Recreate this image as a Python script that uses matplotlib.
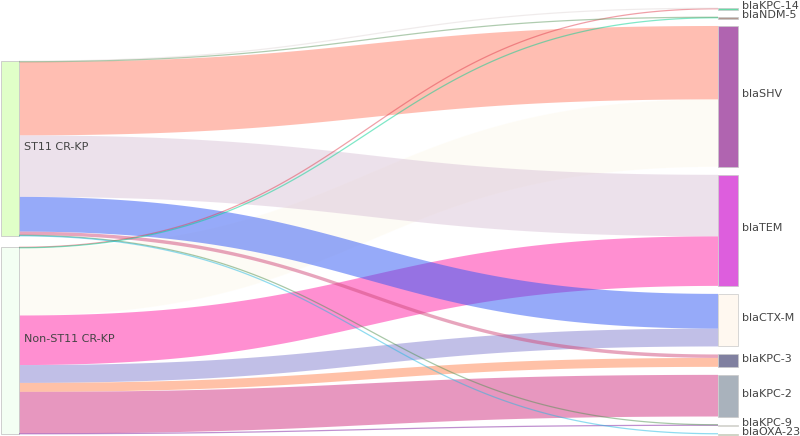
import matplotlib.pyplot as plt
import numpy as np
from matplotlib.patches import Polygon, Rectangle
from matplotlib.colors import to_rgb

# ---- data ----
sources = ["ST11 CR-KP", "Non-ST11 CR-KP"]
targets = ["blaKPC-14", "blaNDM-5", "blaSHV", "blaTEM", "blaCTX-M",
           "blaKPC-3", "blaKPC-2", "blaKPC-9", "blaOXA-23"]

st11_counts = [1, 1, 148, 124, 70, 7, 0, 1, 1]
non_st11_counts = [1, 1, 136, 100, 36, 18, 84, 1, 0]

source_colors = ["#E0FFC8", "#F3FFF3"]
target_colors = ["#66D9A6", "#B09890", "#B064B0", "#DD5EDD", "#FFF8F0",
                 "#8080A0", "#A9B2BC", "#FFFFE0", "#C8E890"]

# colours as they appear over white (links are drawn half transparent)
st11_link_colors = ["#F0ECEC", "#B0CCB0", "#FFBFB3", "#EDE2EC", "#97ABFA",
                    "#E8A6BE", "#FFFFFF", "#A8C8A8", "#90DCF0"]
non_st11_link_colors = ["#F0A0A8", "#70E8C8", "#FEFCF6", "#FF90D2", "#C2C0E8",
                        "#FFC2A8", "#E898C0", "#C090D0", "#FFFFFF"]

W, H = 800, 436
TOP, BOTTOM = 8, 434
PAD = 8
SRC_X = (1, 19)
TGT_X = (718, 738)
ALPHA = 0.5

flows = np.array([st11_counts, non_st11_counts], dtype=float)
link_cols = [st11_link_colors, non_st11_link_colors]

scale = (BOTTOM - TOP - PAD * (len(targets) - 1)) / flows.sum()

# node positions
tgt_h = flows.sum(axis=0) * scale
tgt_y = TOP + np.concatenate([[0], np.cumsum(tgt_h + PAD)[:-1]])
src_h = flows.sum(axis=1) * scale
left_total = src_h.sum() + PAD * (len(sources) - 1)
src_y = BOTTOM - left_total + np.concatenate([[0], np.cumsum(src_h + PAD)[:-1]])
src_y = src_y - np.array([3, 0])


def base_color(c):
    # colour that gives c when drawn with ALPHA over white
    r = np.array(to_rgb(c))
    return tuple(np.clip(1 - (1 - r) / ALPHA, 0, 1))


fig = plt.figure(figsize=(W / 100, H / 100), dpi=100)
ax = fig.add_axes([0, 0, 1, 1])
ax.set_xlim(0, W)
ax.set_ylim(H, 0)
ax.axis('off')

t = np.linspace(0, 1, 120)
x0, x1 = SRC_X[1], TGT_X[0]
xm = (x0 + x1) / 2
bx = x0 * (1 - t) ** 3 + 3 * xm * t * (1 - t) ** 2 + 3 * xm * t ** 2 * (1 - t) + x1 * t ** 3


def by(ya, yb):
    return ya * ((1 - t) ** 3 + 3 * t * (1 - t) ** 2) + yb * (3 * t ** 2 * (1 - t) + t ** 3)


src_cursor = src_y.copy()
tgt_cursor = tgt_y.copy()
links = []
for i in range(len(sources)):
    for j in range(len(targets)):
        v = flows[i, j]
        if v <= 0:
            continue
        h = v * scale
        links.append((i, j, src_cursor[i], tgt_cursor[j], h))
        src_cursor[i] += h
        tgt_cursor[j] += h

# non-ST11 links underneath, ST11 links on top
links.sort(key=lambda l: -l[0])
for i, j, ys, yt, h in links:
    col = base_color(link_cols[i][j])
    top = by(ys, yt)
    bot = by(ys + h, yt + h)
    if h < 1.2:
        ax.plot(bx, (top + bot) / 2, color=col, alpha=ALPHA, lw=0.9,
                solid_capstyle='butt')
    else:
        pts = np.vstack([np.column_stack([bx, top]),
                         np.column_stack([bx[::-1], bot[::-1]])])
        ax.add_patch(Polygon(pts, closed=True, facecolor=col, alpha=ALPHA,
                             edgecolor='none'))

# nodes
for i, name in enumerate(sources):
    ax.add_patch(Rectangle((SRC_X[0], src_y[i]), SRC_X[1] - SRC_X[0], src_h[i],
                           facecolor=source_colors[i], edgecolor='#c8c8c8', lw=0.6))
    ax.text(SRC_X[1] + 5, src_y[i] + src_h[i] / 2 - 2, name, fontsize=8,
            color='#444444', va='center', ha='left')

for j, name in enumerate(targets):
    hh = max(tgt_h[j], 1.8)
    ax.add_patch(Rectangle((TGT_X[0], tgt_y[j]), TGT_X[1] - TGT_X[0], hh,
                           facecolor=target_colors[j], edgecolor='#c8c8c8', lw=0.5))
    ax.text(TGT_X[1] + 4, tgt_y[j] + tgt_h[j] / 2 - 2, name, fontsize=8,
            color='#444444', va='center', ha='left')

plt.savefig('out.png', dpi=100)
plt.close()
